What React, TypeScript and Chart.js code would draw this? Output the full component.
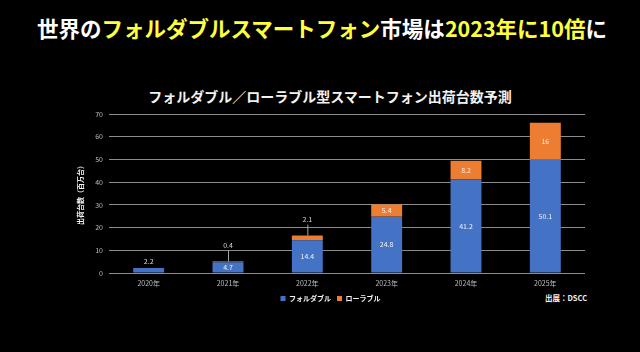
import React, { useEffect, useRef } from "react";
import { Chart, registerables } from "chart.js";

Chart.register(...registerables);

const categories = ["2020年", "2021年", "2022年", "2023年", "2024年", "2025年"];
const foldable = [2.2, 4.7, 14.4, 24.8, 41.2, 50.1];
const rollable = [0, 0.4, 2.1, 5.4, 8.2, 16];
const seriesNames = ["フォルダブル", "ローラブル"];
const yTicks = [0, 10, 20, 30, 40, 50, 60, 70];

const BLUE = "#4472C4";
const ORANGE = "#ED7D31";
const FONT = "'Noto Sans CJK JP', 'Noto Sans', sans-serif";

const labelPlugin = {
  id: "segLabels",
  afterDatasetsDraw(chart: any) {
    const ctx = chart.ctx;
    ctx.save();
    ctx.font = `7px ${FONT}`;
    ctx.textAlign = "center";
    ctx.textBaseline = "middle";
    const m0 = chart.getDatasetMeta(0);
    const m1 = chart.getDatasetMeta(1);
    categories.forEach((_, i) => {
      const b0: any = m0.data[i];
      const b1: any = m1.data[i];
      const v0 = foldable[i];
      const v1 = rollable[i];
      const h0 = b0.base - b0.y;
      if (h0 >= 8) {
        ctx.fillStyle = "#f2f2f2";
        ctx.fillText(String(v0), b0.x, (b0.y + b0.base) / 2);
      } else {
        ctx.fillStyle = "#d9d9d9";
        ctx.fillText(String(v0), b0.x, b0.y - 7);
      }
      if (v1 > 0) {
        const h1 = b1.base - b1.y;
        if (h1 >= 8) {
          ctx.fillStyle = "#f2f2f2";
          ctx.fillText(String(v1), b1.x, (b1.y + b1.base) / 2);
        } else {
          const ly = b1.y - 16;
          ctx.strokeStyle = "#a6a6a6";
          ctx.lineWidth = 1;
          ctx.beginPath();
          ctx.moveTo(b1.x + 0.5, b1.y);
          ctx.lineTo(b1.x + 0.5, ly + 5);
          ctx.stroke();
          ctx.fillStyle = "#d9d9d9";
          ctx.fillText(String(v1), b1.x, ly);
        }
      }
    });
    ctx.restore();
  },
};

export default function App() {
  const ref = useRef<HTMLCanvasElement>(null);
  useEffect(() => {
    document.body.style.margin = "0";
    document.body.style.background = "#000";
    const chart = new Chart(ref.current!, {
      type: "bar",
      data: {
        labels: categories,
        datasets: [
          { label: seriesNames[0], data: foldable, backgroundColor: BLUE },
          { label: seriesNames[1], data: rollable, backgroundColor: ORANGE },
        ],
      },
      options: {
        animation: false,
        responsive: false,
        layout: { padding: { left: 76, right: 55, top: 114, bottom: 40 } },
        datasets: { bar: { categoryPercentage: 1, barPercentage: 0.39 } },
        scales: {
          x: {
            stacked: true,
            grid: { display: false, drawTicks: false },
            border: { display: false },
            ticks: {
              color: "#bfbfbf",
              font: { size: 7, family: FONT },
              padding: 6,
              maxRotation: 0,
              minRotation: 0,
              autoSkip: false,
            },
            afterFit: (s: any) => { s.height = 16; },
          },
          y: {
            stacked: true,
            min: 0,
            max: 70,
            afterBuildTicks: (s: any) => { s.ticks = yTicks.map((v) => ({ value: v })); },
            grid: { color: "#8c8c8c", lineWidth: 1, drawTicks: false },
            border: { display: false },
            ticks: { color: "#bfbfbf", font: { size: 7, family: FONT }, padding: 6 },
            title: {
              display: true,
              text: "出荷台数（百万台）",
              color: "#f2f2f2",
              font: { size: 7, weight: "bold", family: FONT },
              padding: 0,
            },
            afterFit: (s: any) => { s.width = 33; },
          },
        },
        plugins: {
          legend: {
            position: "bottom",
            labels: {
              color: "#f2f2f2",
              font: { size: 7, weight: "bold", family: FONT },
              boxWidth: 5,
              boxHeight: 5,
              padding: 6,
            },
          },
          tooltip: { enabled: false },
        },
      },
      plugins: [labelPlugin],
    } as any);
    return () => chart.destroy();
  }, []);

  const y = "#ffff40";
  return (
    <div style={{ position: "fixed", left: 0, top: 0, width: 640, height: 352, background: "#000", overflow: "hidden" }}>
      <div
        style={{
          position: "absolute",
          top: 13,
          left: 2,
          width: 640,
          textAlign: "center",
          fontFamily: FONT,
          fontWeight: 700,
          fontSize: 21.5,
          lineHeight: "30px",
          color: "#fff",
          whiteSpace: "nowrap",
        }}
      >
        世界の<span style={{ color: y }}>フォルダブルスマートフォン</span>市場は
        <span style={{ color: y }}>2023年に10倍</span>に
      </div>
      <div
        style={{
          position: "absolute",
          top: 86,
          left: 10,
          width: 640,
          textAlign: "center",
          fontFamily: FONT,
          fontWeight: 700,
          fontSize: 14,
          lineHeight: "20px",
          color: "#f2f2f2",
          whiteSpace: "nowrap",
        }}
      >
        フォルダブル／ローラブル型スマートフォン出荷台数予測
      </div>
      <div
        style={{
          position: "absolute",
          top: 292,
          left: 545,
          fontFamily: FONT,
          fontWeight: 700,
          fontSize: 7.5,
          lineHeight: "12px",
          color: "#f2f2f2",
          whiteSpace: "nowrap",
        }}
      >
        出展：DSCC
      </div>
      <canvas ref={ref} width={640} height={352} style={{ position: "absolute", left: 0, top: 0 }} />
    </div>
  );
}
